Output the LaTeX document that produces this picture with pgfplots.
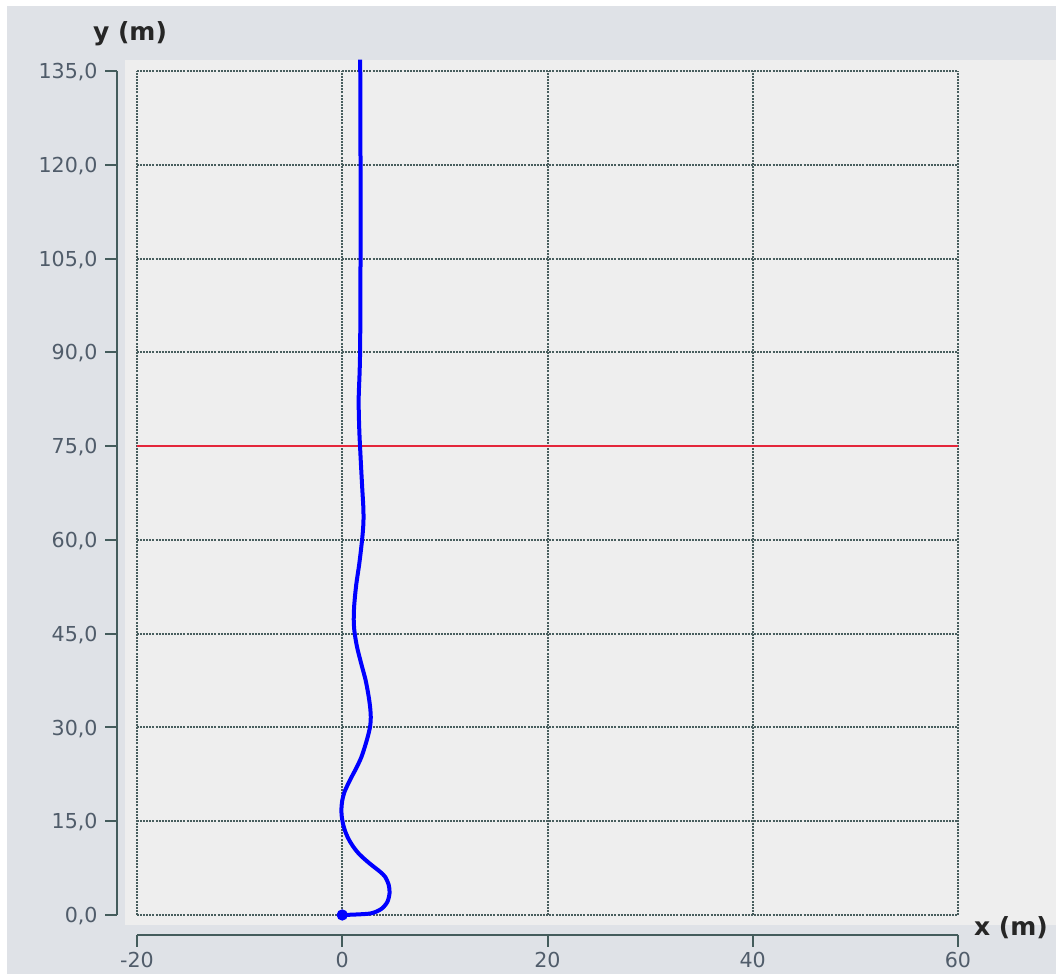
\documentclass[border=0pt]{standalone}
\usepackage{fontspec}
\setmainfont{DejaVu Sans}
\usepackage{pgfplots}
\pgfplotsset{compat=1.18}

\definecolor{outerbg}{RGB}{223,226,231}
\definecolor{panelbg}{RGB}{238,238,238}
\definecolor{axiscol}{RGB}{68,92,92}
\definecolor{gridcol}{RGB}{72,94,94}
\definecolor{labelcol}{RGB}{80,92,106}
\definecolor{limitred}{RGB}{228,38,58}
\definecolor{pathblue}{RGB}{0,0,255}

\begin{document}
\begin{tikzpicture}
% background layers (1 unit = 0.5pt)
\begin{scope}[x=0.5pt,y=0.5pt]
  \fill[white] (0,0) rectangle (1056,974);
  \fill[outerbg] (7,0) rectangle (1056,968);
  \fill[panelbg] (125,49) rectangle (1056,914);
  \node[font=\fontsize{12.5}{14}\selectfont\bfseries, text=black!85] at (130,940) {y (m)};
  \node[font=\fontsize{12.5}{14}\selectfont\bfseries, text=black!85] at (1011,46.5) {x (m)};
\end{scope}

\begin{axis}[
  at={(68.5pt,29.5pt)}, anchor=south west,
  scale only axis, width=410.5pt, height=422pt,
  xmin=-20, xmax=60, ymin=0, ymax=135,
  xtick={-20,0,20,40,60},
  ytick={0,15,30,45,60,75,90,105,120,135},
  axis line style={draw=none},
  major tick length=0pt,
  grid=major,
  major grid style={gridcol, line width=1pt, dash pattern=on 1pt off 0.55pt},
  clip=false,
  /pgf/number format/assume math mode=true,
  tick label style={font=\fontsize{10.3}{12}\selectfont, text=labelcol, inner sep=0pt, text depth=0pt},
  yticklabel style={anchor=east, xshift=-19.5pt,
    /pgf/number format/fixed, /pgf/number format/fixed zerofill,
    /pgf/number format/precision=1, /pgf/number format/use comma},
  xticklabel style={anchor=north, yshift=-18.5pt},
]
% offset axis lines with outward ticks
\draw[axiscol, line width=1pt]
  ([xshift=-10pt]axis cs:-20,0) -- ([xshift=-10pt]axis cs:-20,135);
\pgfplotsinvokeforeach{0,15,30,45,60,75,90,105,120,135}{
  \draw[axiscol, line width=1pt] ([xshift=-10pt]axis cs:-20,#1) -- ([xshift=-16pt]axis cs:-20,#1);
}
\draw[axiscol, line width=1pt]
  ([yshift=-10pt]axis cs:-20,0) -- ([yshift=-10pt]axis cs:60,0);
\pgfplotsinvokeforeach{-20,0,20,40,60}{
  \draw[axiscol, line width=1pt] ([yshift=-10pt]axis cs:#1,0) -- ([yshift=-16pt]axis cs:#1,0);
}

% limit height
\addplot[limitred, line width=1pt] coordinates {(-20,75) (60,75)};

% trajectory
\addplot[pathblue, line width=2pt, smooth, tension=0.5] coordinates {
  (0,0) (1.36,0.08) (2.83,0.27) (3.80,0.96) (4.39,2.08) (4.61,3.52)
  (4.53,4.8) (4.19,6.08) (3.7,6.9) (3.2,7.55) (2.7,8.2) (2.2,8.9)
  (1.65,9.75) (1.17,10.7) (0.7,11.9) (0.35,13.1) (0.1,14.4) (-0.05,15.8)
  (-0.08,17.0) (0,18.3) (0.2,19.6) (0.55,20.9) (0.95,22.2) (1.4,23.6)
  (1.85,25.2) (2.2,26.9) (2.5,28.6) (2.72,30.2) (2.78,31.6) (2.72,33.2)
  (2.55,35.2) (2.27,37.6) (1.85,40.2) (1.45,42.8) (1.2,45.2) (1.12,47.2)
  (1.17,49.6) (1.36,52.8) (1.66,56.2) (1.92,59.8) (2.06,62.6) (2.06,65.0)
  (1.95,68.2) (1.8,72.8) (1.66,77.6) (1.6,82.4) (1.7,87.2) (1.75,92)
  (1.78,105) (1.78,120) (1.75,136.8)
};
\addplot[pathblue, only marks, mark=*, mark size=2.6pt] coordinates {(0,0)};
\end{axis}
\end{tikzpicture}
\end{document}
